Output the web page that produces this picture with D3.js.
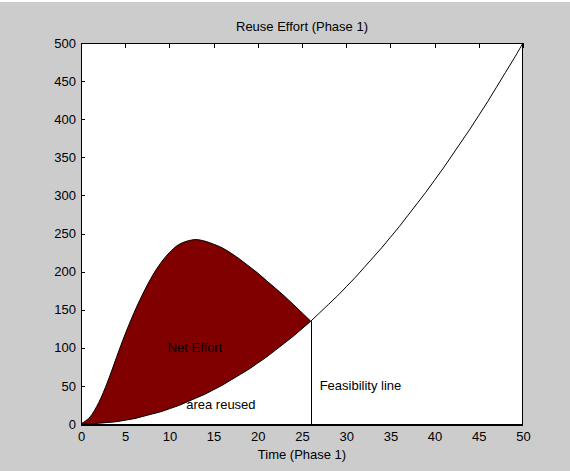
<!DOCTYPE html>
<html>
<head>
<meta charset="utf-8">
<script src="https://cdn.jsdelivr.net/npm/d3@7"></script>
<style>
	body { margin: 0; background: #fff; }
	svg text { font-family: "Liberation Sans", Arial, sans-serif; font-size: 13px; fill: #000; }
</style>
</head>
<body>
<svg id="chart" width="570" height="471"></svg>
<script>
// time axis (phase 1)
var timeValues = [0, 1, 2, 3, 4, 5, 6, 7, 8, 9, 10, 11, 12, 13, 14, 15, 16, 17, 18, 19, 20,
	21, 22, 23, 24, 25, 26, 27, 28, 29, 30, 31, 32, 33, 34, 35, 36, 37, 38, 39, 40,
	41, 42, 43, 44, 45, 46, 47, 48, 49, 50];
// effort curve (upper edge of the net effort area), up to feasibility point
var effortValues = [0, 9, 28, 55, 87, 118, 146, 171, 193, 211, 225, 235, 240, 242, 240, 236,
	231, 224, 216, 207, 198, 188, 178, 168, 157, 146, 135];
// reuse curve (lower edge), whole time range
var reuseValues = [0, 0, 1, 2, 3, 5, 7, 10, 13, 16, 20, 24, 29, 34, 39, 45, 51, 58, 65, 72, 80,
	88, 97, 106, 115, 125, 135, 146, 157, 168, 180, 192, 205, 218, 231, 245, 259, 274, 289, 304, 320,
	336, 353, 370, 387, 405, 423, 442, 461, 480, 500];
var feasibilityTime = 26;

var xTicks = [0, 5, 10, 15, 20, 25, 30, 35, 40, 45, 50];
var yTicks = [0, 50, 100, 150, 200, 250, 300, 350, 400, 450, 500];

var svg = d3.select('#chart'),
	margin = { top: 43, right: 47, bottom: 47, left: 81 },
	width = +svg.attr('width') - margin.left - margin.right,
	height = +svg.attr('height') - margin.top - margin.bottom;

svg.append('rect')
	.attr('x', 0).attr('y', 2)
	.attr('width', 570).attr('height', 469)
	.attr('fill', '#cccccc');

var g = svg.append('g').attr('transform', 'translate(' + margin.left + ',' + margin.top + ')');

var scaleX = d3.scaleLinear().domain([0, 50]).range([0, width]);
var scaleY = d3.scaleLinear().domain([0, 500]).range([height, 0]);

g.append('rect')
	.attr('width', width).attr('height', height)
	.attr('fill', '#fff');

var effort = effortValues.map(function (v, i) { return { x: timeValues[i], top: v, bottom: reuseValues[i] }; });
var reuse = reuseValues.map(function (v, i) { return { x: timeValues[i], y: v }; });

var area = d3.area()
	.x(function (d) { return scaleX(d.x); })
	.y0(function (d) { return scaleY(d.bottom); })
	.y1(function (d) { return scaleY(d.top); })
	.curve(d3.curveCatmullRom);

var line = d3.line()
	.x(function (d) { return scaleX(d.x); })
	.y(function (d) { return scaleY(d.y); })
	.curve(d3.curveCatmullRom);

g.append('path')
	.datum(effort)
	.attr('fill', '#800000')
	.attr('d', area);

g.append('path')
	.datum(effort.map(function (d) { return { x: d.x, y: d.top }; }))
	.attr('fill', 'none')
	.attr('stroke', '#000')
	.attr('stroke-width', 1)
	.attr('d', line);

g.append('path')
	.datum(reuse)
	.attr('fill', 'none')
	.attr('stroke', '#000')
	.attr('stroke-width', 1)
	.attr('d', line);

// feasibility line
g.append('line')
	.attr('x1', Math.round(scaleX(feasibilityTime)) + 0.5)
	.attr('x2', Math.round(scaleX(feasibilityTime)) + 0.5)
	.attr('y1', scaleY(reuseValues[feasibilityTime]))
	.attr('y2', height)
	.attr('stroke', '#000')
	.attr('stroke-width', 1);

// axes
var yAxis = g.append('g')
	.attr('shape-rendering', 'crispEdges')
	.call(d3.axisLeft(scaleY).tickValues(yTicks).tickSize(-4).tickPadding(5));
yAxis.select('.domain').remove();
yAxis.selectAll('text').style('font-size', '13px').style('font-family', '"Liberation Sans", Arial, sans-serif');

var xAxis = g.append('g')
	.attr('transform', 'translate(0,' + height + ')')
	.call(d3.axisBottom(scaleX).tickValues(xTicks).tickSize(0).tickPadding(8));
xAxis.select('.domain').remove();
xAxis.selectAll('text').style('font-size', '13px').style('font-family', '"Liberation Sans", Arial, sans-serif');

var topAxis = g.append('g')
	.attr('shape-rendering', 'crispEdges')
	.call(d3.axisTop(scaleX).tickValues(xTicks).tickSize(-5).tickFormat(''));
topAxis.select('.domain').remove();

// box
g.append('rect')
	.attr('x', 0.5).attr('y', 0.5)
	.attr('width', width - 1).attr('height', height)
	.attr('fill', 'none')
	.attr('stroke', '#000')
	.attr('shape-rendering', 'crispEdges');
g.append('line')
	.attr('x1', 0).attr('x2', width)
	.attr('y1', height + 1).attr('y2', height + 1)
	.attr('stroke', '#000').attr('stroke-width', 2)
	.attr('shape-rendering', 'crispEdges');

// labels
svg.append('text')
	.attr('x', margin.left + width / 2).attr('y', 31)
	.attr('text-anchor', 'middle')
	.text('Reuse Effort (Phase 1)');
svg.append('text')
	.attr('x', margin.left + width / 2).attr('y', 459)
	.attr('text-anchor', 'middle')
	.text('Time (Phase 1)');

g.append('text')
	.attr('x', scaleX(9.8)).attr('y', 352 - margin.top)
	.text('Net Effort');
g.append('text')
	.attr('x', scaleX(11.9)).attr('y', 409 - margin.top)
	.text('area reused');
g.append('text')
	.attr('x', scaleX(27)).attr('y', 390 - margin.top)
	.text('Feasibility line');
</script>
</body>
</html>
